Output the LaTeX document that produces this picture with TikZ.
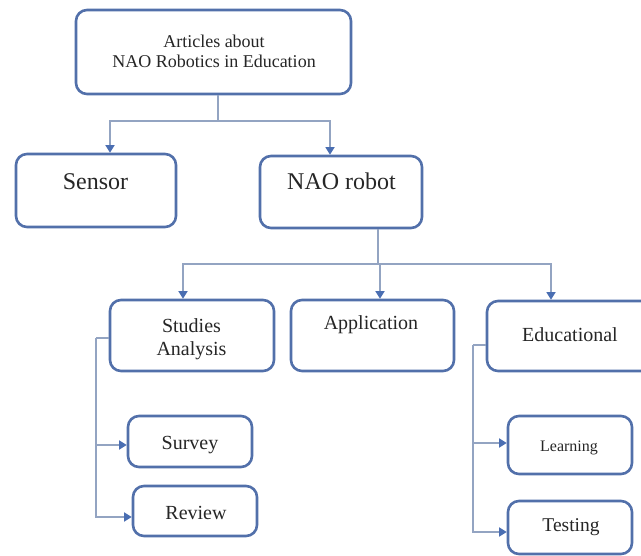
\documentclass[tikz,border=0pt]{standalone}
\usepackage{fontspec}
\setmainfont{Liberation Serif}
\usetikzlibrary{arrows.meta,calc}
\definecolor{boxblue}{HTML}{5270AA}
\definecolor{linegray}{HTML}{93A4C2}
\definecolor{tipblue}{HTML}{4A6EB2}
\tikzset{
  box/.style={draw=boxblue, line width=2.6pt, rounded corners=11pt, fill=white, inner sep=0pt, anchor=center},
  txt/.style={inner sep=0pt, text=black!85},
  conn/.style={draw=linegray, line width=1.4pt},
  arr/.style={conn, -{Triangle[width=9pt,length=7.5pt,fill=tipblue,color=tipblue]}},
}
\begin{document}
\begin{tikzpicture}[x=1pt,y=-1pt]
\useasboundingbox (0,0) rectangle (641,556);
\clip (0,0) rectangle (641,556);
\fill[white] (0,0) rectangle (641,556);

% boxes
\node[box, minimum width=275pt, minimum height=84pt] (top) at (213.5,52) {};
\node[box, minimum width=160pt, minimum height=73pt] (sensor) at (96,190.5) {};
\node[box, minimum width=162pt, minimum height=72pt] (nao) at (341,192) {};
\node[box, minimum width=164pt, minimum height=71pt] (studies) at (192,335.5) {};
\node[box, minimum width=163pt, minimum height=71pt] (app) at (372.5,335.5) {};
\node[box, minimum width=232pt, minimum height=70pt] (edu) at (603,336) {};
\node[box, minimum width=124pt, minimum height=51pt] (survey) at (190,441.5) {};
\node[box, minimum width=124pt, minimum height=50pt] (review) at (195,511) {};
\node[box, minimum width=124pt, minimum height=58pt] (learning) at (570,445) {};
\node[box, minimum width=124pt, minimum height=53pt] (testing) at (570,527.5) {};

% texts
\node[txt, align=center, font=\fontsize{18}{20}\selectfont] (topt) at (214,51) {Articles about\\NAO Robotics in Education};
\node[txt, anchor=base, font=\fontsize{24}{28}\selectfont] (sensort) at (95.5,190) {Sensor};
\node[txt, anchor=base, font=\fontsize{24}{28}\selectfont] (naot) at (341.5,190) {NAO robot};
\node[txt, align=center, font=\fontsize{20}{23}\selectfont] (studiest) at (191.5,339) {Studies\\Analysis};
\node[txt, anchor=base, font=\fontsize{20}{23}\selectfont] (appt) at (371,330) {Application};
\node[txt, anchor=base, font=\fontsize{20}{23}\selectfont] (edut) at (570,342) {Educational};
\node[txt, anchor=base, font=\fontsize{20}{23}\selectfont] (surveyt) at (190,450) {Survey};
\node[txt, anchor=base, font=\fontsize{20}{23}\selectfont] (reviewt) at (196,519) {Review};
\node[txt, anchor=base, font=\fontsize{16}{19}\selectfont] (learningt) at (569,452) {Learning};
\node[txt, anchor=base, font=\fontsize{19.5}{23}\selectfont] (testingt) at (571,532) {Testing};

% junction coordinates
\coordinate (j1) at (218,121);
\coordinate (j2) at (378,264);
\coordinate (j3) at (96,338);
\coordinate (j4) at (473,345);

% top -> sensor, nao
\draw[conn] (top.south -| j1) -- (j1);
\draw[arr] (j1) -| ([xshift=14pt]sensor.north);
\draw[arr] (j1) -| ([xshift=-11pt]nao.north);

% nao -> studies, application, educational
\draw[conn] (nao.south -| j2) -- (j2);
\draw[arr] (j2) -| ([xshift=-9pt]studies.north);
\draw[arr] (j2) -| ([xshift=7.5pt]app.north);
\draw[arr] (j2) -| ([xshift=-52pt]edu.north);

% studies -> survey, review
\draw[conn] (studies.west |- j3) -- (j3);
\draw[arr] (j3) |- ([yshift=-3.5pt]survey.west);
\draw[arr] (j3) |- ([yshift=-6pt]review.west);

% educational -> learning, testing
\draw[conn] (edu.west |- j4) -- (j4);
\draw[arr] (j4) |- ([yshift=2pt]learning.west);
\draw[arr] (j4) |- ([yshift=-4.5pt]testing.west);
\end{tikzpicture}
\end{document}
